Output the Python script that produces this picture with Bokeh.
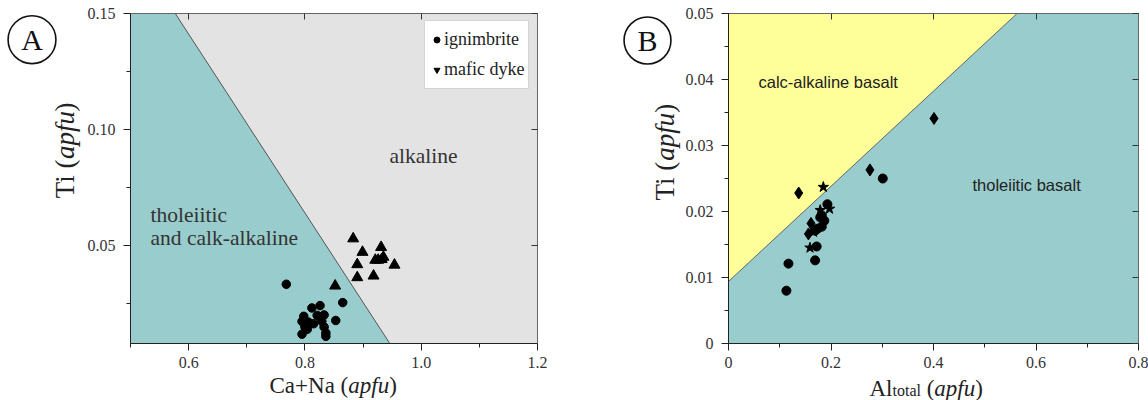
import math
from bokeh.plotting import figure
from bokeh.models import (Label, Legend, LegendItem, LinearAxis, FixedTicker,
                          CustomJSTickFormatter, Range1d)
from bokeh.core.properties import value
from bokeh.layouts import row
from bokeh.embed import file_html
from bokeh.resources import INLINE

# ---------------- Panel A data: Ti vs Ca+Na ----------------
a_ign_x = [0.768, 0.865, 0.812, 0.826, 0.798, 0.821, 0.833, 0.795, 0.806, 0.815,
           0.829, 0.853, 0.800, 0.833, 0.804, 0.795, 0.836, 0.836]
a_ign_y = [0.0335, 0.0256, 0.0233, 0.0243, 0.0197, 0.0201, 0.0203, 0.0175, 0.0172, 0.0165,
           0.0176, 0.0179, 0.0151, 0.0151, 0.0141, 0.0120, 0.0125, 0.0111]
a_dyke_x = [0.883, 0.931, 0.899, 0.935, 0.921, 0.926, 0.932, 0.890, 0.954, 0.890, 0.918, 0.852]
a_dyke_y = [0.0531, 0.0494, 0.0473, 0.0452, 0.0439, 0.0439, 0.0442, 0.0420, 0.0418, 0.0364, 0.0371, 0.0328]
a_boundary_x = [0.577, 0.946]
a_boundary_y = [0.150, 0.008]
a_xticks = [0.6, 0.8, 1.0, 1.2]
a_xminor = [0.5, 0.7, 0.9, 1.1]
a_yticks = [0.05, 0.10, 0.15]
a_yminor = [0.025, 0.075, 0.125]

# ---------------- Panel B data: Ti vs Al total ----------------
b_circle_x = [0.301, 0.193, 0.182, 0.179, 0.187, 0.182, 0.174, 0.169, 0.172, 0.169, 0.117, 0.113]
b_circle_y = [0.0250, 0.0211, 0.0194, 0.0191, 0.0186, 0.0177, 0.0174, 0.0171, 0.0147, 0.0126, 0.0121, 0.0080]
b_diamond_x = [0.401, 0.276, 0.137, 0.161, 0.156]
b_diamond_y = [0.0341, 0.0263, 0.0228, 0.0182, 0.0166]
b_star_x = [0.185, 0.179, 0.197, 0.159, 0.166]
b_star_y = [0.0237, 0.0202, 0.0204, 0.0145, 0.0169]
b_boundary_x = [0.0, 0.563]
b_boundary_y = [0.0094, 0.050]
b_xticks = [0.0, 0.2, 0.4, 0.6, 0.8]
b_xminor = [0.1, 0.3, 0.5, 0.7]
b_yticks = [0.0, 0.01, 0.02, 0.03, 0.04, 0.05]
b_yminor = [0.005, 0.015, 0.025, 0.035, 0.045]

SERIF = "Liberation Serif"
SANS = "Liberation Sans"
TEAL = "#99cccc"
GREY = "#e3e3e3"
YELLOW = "#ffff99"

W_REG = {'T': .611, 'i': .278, ' ': .25, '(': .333, ')': .333, 'C': .667, 'a': .444,
         '+': .564, 'N': .722, 'A': .722, 'l': .278, 't': .278, 'o': .5}
W_IT = {'a': .5, 'p': .5, 'f': .278, 'u': .5}


def tw(s, size, italic=False):
    table = W_IT if italic else W_REG
    return sum(table.get(c, 0.5) for c in s) * size


def add_pieces(p, pieces, px, py, xs, ys, vertical=False):
    """Place text pieces side by side outside the frame.
    px, py: anchor in pixels relative to the frame's bottom-left corner (y up).
    xs, ys: data units per pixel."""
    x0 = p.x_range.start
    y0 = p.y_range.start
    for text, size, italic, shift in pieces:
        lead = len(text) - len(text.lstrip(" "))
        if lead:
            adv = tw(" " * lead, size, italic)
            if vertical:
                py += adv
            else:
                px += adv
            text = text.lstrip(" ")
        if vertical:
            gx, gy = px - shift, py
        else:
            gx, gy = px, py - shift
        r = p.text(x=[x0 + gx * xs], y=[y0 + gy * ys], text=[text],
                   angle=(math.pi / 2 if vertical else 0),
                   text_font=value(SERIF), text_font_size=f"{size}px",
                   text_font_style=("italic" if italic else "normal"),
                   text_color="#222", text_align="left", text_baseline="middle")
        r.level = "overlay"
        if vertical:
            py += tw(text, size, italic)
        else:
            px += tw(text, size, italic)


def circled_letter(p, letter, px, py, xs, ys):
    x = p.x_range.start + px * xs
    y = p.y_range.start + py * ys
    t = p.text(x=[x], y=[y], text=[letter], text_font=value(SERIF), text_font_size="30px",
               text_color="#111", text_align="center", text_baseline="middle")
    t.level = "overlay"
    g = t.glyph
    try:
        g.border_line_color = "#111"
        g.border_line_width = 1.6
        g.padding = 3
    except Exception:
        pass
    try:
        g.outline_shape = "circle"
    except Exception:
        try:
            g.border_radius = 22
            g.padding = (11, 5)
        except Exception:
            pass


def style_axis(ax, ticks, minor, code, standoff):
    ax.ticker = FixedTicker(ticks=ticks, minor_ticks=minor)
    ax.formatter = CustomJSTickFormatter(code=code)
    ax.axis_line_color = "#222"
    ax.major_tick_line_color = "#222"
    ax.minor_tick_line_color = "#222"
    ax.major_tick_out = 7
    ax.major_tick_in = 0
    ax.minor_tick_out = 4
    ax.minor_tick_in = 0
    ax.major_label_text_font = SERIF
    ax.major_label_text_font_size = "16px"
    ax.major_label_text_color = "#333"
    ax.major_label_standoff = standoff
    ax.axis_label = None


def inner_axis(ticks):
    return LinearAxis(ticker=FixedTicker(ticks=ticks),
                      formatter=CustomJSTickFormatter(code="return '';"),
                      major_label_text_font_size="0px", major_label_standoff=0,
                      major_tick_in=6, major_tick_out=0, minor_tick_in=0, minor_tick_out=0,
                      axis_line_color="#666", major_tick_line_color="#333")


# ---------------- Panel A ----------------
pA = figure(width=565, height=400, x_range=Range1d(0.5, 1.2), y_range=Range1d(0.008, 0.15),
            output_backend="svg", toolbar_location=None,
            min_border_left=130, min_border_right=28, min_border_top=13, min_border_bottom=53,
            background_fill_color=GREY, border_fill_color="white")
pA.grid.visible = False
pA.outline_line_color = "#555"
style_axis(pA.xaxis[0], a_xticks, a_xminor, "return tick.toFixed(1);", 6)
style_axis(pA.yaxis[0], a_yticks, a_yminor, "return tick.toFixed(2);", 8)
pA.add_layout(inner_axis(a_xticks), "above")
pA.add_layout(inner_axis(a_yticks), "right")

ax0 = pA.x_range.start
pA.patch([ax0, a_boundary_x[0], a_boundary_x[1], ax0],
         [a_boundary_y[0], a_boundary_y[0], a_boundary_y[1], a_boundary_y[1]],
         fill_color=TEAL, line_color=None)
pA.line(a_boundary_x, a_boundary_y, line_color="#555", line_width=1)

r_ign = pA.scatter(a_ign_x, a_ign_y, marker="circle", size=8.5, fill_color="black", line_color="black")
pA.scatter(a_dyke_x, a_dyke_y, marker="triangle", size=11, fill_color="black", line_color="black")
# legend symbol for the dykes (zero size in the plot, only the legend shows it)
r_dyke_leg = pA.scatter(a_dyke_x, a_dyke_y, marker="inverted_triangle", size=0,
                        fill_color="black", line_color="black")

legend = Legend(items=[LegendItem(label="ignimbrite", renderers=[r_ign]),
                       LegendItem(label="mafic dyke", renderers=[r_dyke_leg])],
                location=(294, 254), margin=0, padding=4, spacing=1,
                glyph_width=15, glyph_height=29, label_height=29, label_standoff=0,
                label_text_font=SERIF, label_text_font_size="18px", label_text_color="#222",
                border_line_color="#aaa", border_line_width=1,
                background_fill_color="white", background_fill_alpha=1)
pA.add_layout(legend)

for txt, yy, xx in [("alkaline", 188, 259), ("tholeiitic", 129, 20), ("and calk-alkaline", 106, 20)]:
    pA.add_layout(Label(x=xx, y=yy, x_units="screen", y_units="screen", text=txt,
                        text_font=SERIF, text_font_size="21.5px", text_color="#333",
                        text_baseline="alphabetic"))

axs = 0.7 / 407.0
ays = 0.142 / 334.0
add_pieces(pA, [("Ca+Na (", 23, False, 0), ("apfu", 23, True, 0), (")", 23, False, 0)],
           139, -43, axs, ays)
add_pieces(pA, [("Ti (", 27, False, 0), ("apfu", 27, True, 0), (")", 27, False, 0)],
           -66, 147, axs, ays, vertical=True)
circled_letter(pA, "A", -98.5, 307.5, axs, ays)

# ---------------- Panel B ----------------
pB = figure(width=583, height=400, x_range=Range1d(0.0, 0.8), y_range=Range1d(0.0, 0.05),
            output_backend="svg", toolbar_location=None,
            min_border_left=163, min_border_right=10, min_border_top=13, min_border_bottom=57,
            background_fill_color=TEAL, border_fill_color="white")
pB.grid.visible = False
pB.outline_line_color = "#555"
style_axis(pB.xaxis[0], b_xticks, b_xminor,
           "return Math.abs(tick) < 1e-9 ? '0' : tick.toFixed(1);", 6)
style_axis(pB.yaxis[0], b_yticks, b_yminor,
           "return Math.abs(tick) < 1e-9 ? '0' : tick.toFixed(2);", 8)
pB.add_layout(inner_axis(b_xticks), "above")
pB.add_layout(inner_axis(b_yticks), "right")

bx0 = pB.x_range.start
by1 = pB.y_range.end
pB.patch([bx0, b_boundary_x[1], bx0],
         [b_boundary_y[0], b_boundary_y[1], by1],
         fill_color=YELLOW, line_color=None)
pB.line(b_boundary_x, b_boundary_y, line_color="#666", line_width=1)

pB.scatter(b_circle_x, b_circle_y, marker="circle", size=9, fill_color="black", line_color="black")
pB.scatter(b_diamond_x, b_diamond_y, marker="diamond", size=12, fill_color="black", line_color="black")
pB.scatter(b_star_x, b_star_y, marker="star", size=11, fill_color="black", line_color="black")

pB.add_layout(Label(x=30, y=262, x_units="screen", y_units="screen", text="calc-alkaline basalt",
                    text_font=SANS, text_font_size="16.5px", text_color="#222", text_baseline="middle"))
pB.add_layout(Label(x=244, y=159, x_units="screen", y_units="screen", text="tholeiitic basalt",
                    text_font=SANS, text_font_size="16.5px", text_color="#222", text_baseline="middle"))

bxs = 0.8 / 410.0
bys = 0.05 / 330.0
add_pieces(pB, [("Al", 23, False, 0), ("total", 16, False, 2), (" (", 23, False, 0),
                ("apfu", 23, True, 0), (")", 23, False, 0)], 141, -45, bxs, bys)
add_pieces(pB, [("Ti (", 27, False, 0), ("apfu", 27, True, 0), (")", 27, False, 0)],
           -64, 143, bxs, bys, vertical=True)
circled_letter(pB, "B", -81, 303, bxs, bys)

layout = row(pA, pB)
open("out.html", "w").write(file_html(layout, INLINE))
